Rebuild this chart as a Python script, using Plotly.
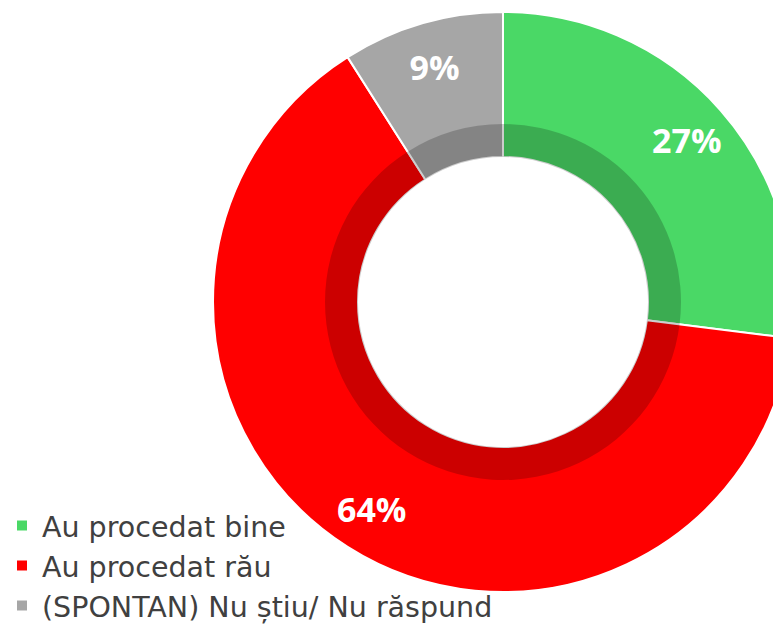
import plotly.graph_objects as go

labels = ["Au procedat bine", "Au procedat rău", "(SPONTAN) Nu știu/ Nu răspund"]
values = [27, 64, 9]
text_labels = ["27%", "64%", "9%"]
colors = ["#4AD866", "#FF0000", "#A6A6A6"]
shade = "rgba(0,0,0,0.2)"

W, H = 800, 626
OFF = 8  # page body margin

def dom(cx, cy, r):
    cx -= OFF
    cy -= OFF
    yb = H - cy
    return dict(x=[(cx - r) / W, (cx + r) / W], y=[(yb - r) / H, (yb + r) / H])

CX, CY, R = 503, 302, 290

fig = go.Figure()
fig.add_trace(go.Pie(
    labels=labels, values=values, sort=False, direction="clockwise", rotation=0,
    hole=145 / R, marker=dict(colors=colors, line=dict(color="white", width=2)),
    textinfo="none", hoverinfo="skip", domain=dom(CX, CY, R), showlegend=True,
))
fig.add_trace(go.Pie(
    labels=labels, values=values, sort=False, direction="clockwise", rotation=0,
    hole=145 / 178, marker=dict(colors=[shade] * 3, line=dict(width=0)),
    textinfo="none", hoverinfo="skip", domain=dom(CX, CY, 178), showlegend=False,
))
fig.add_trace(go.Pie(
    labels=labels, values=values, sort=False, direction="clockwise", rotation=0,
    hole=0.69, marker=dict(colors=["rgba(0,0,0,0)"] * 3, line=dict(width=0)),
    text=text_labels, textinfo="text", textposition="inside",
    insidetextorientation="horizontal",
    textfont=dict(family="Open Sans", size=34, color="white", weight="bold"),
    hoverinfo="skip", domain=dom(CX, CY, R), showlegend=False,
))

fig.update_layout(
    width=W, height=H, margin=dict(l=0, r=0, t=0, b=0, autoexpand=False),
    paper_bgcolor="white", plot_bgcolor="white",
    legend=dict(x=-0.0075, y=0.004, xanchor="left", yanchor="bottom",
                font=dict(family="DejaVu Sans", size=28.5, color="#404040"),
                bgcolor="rgba(0,0,0,0)", traceorder="normal"),
)

fig.write_html("out.html")
